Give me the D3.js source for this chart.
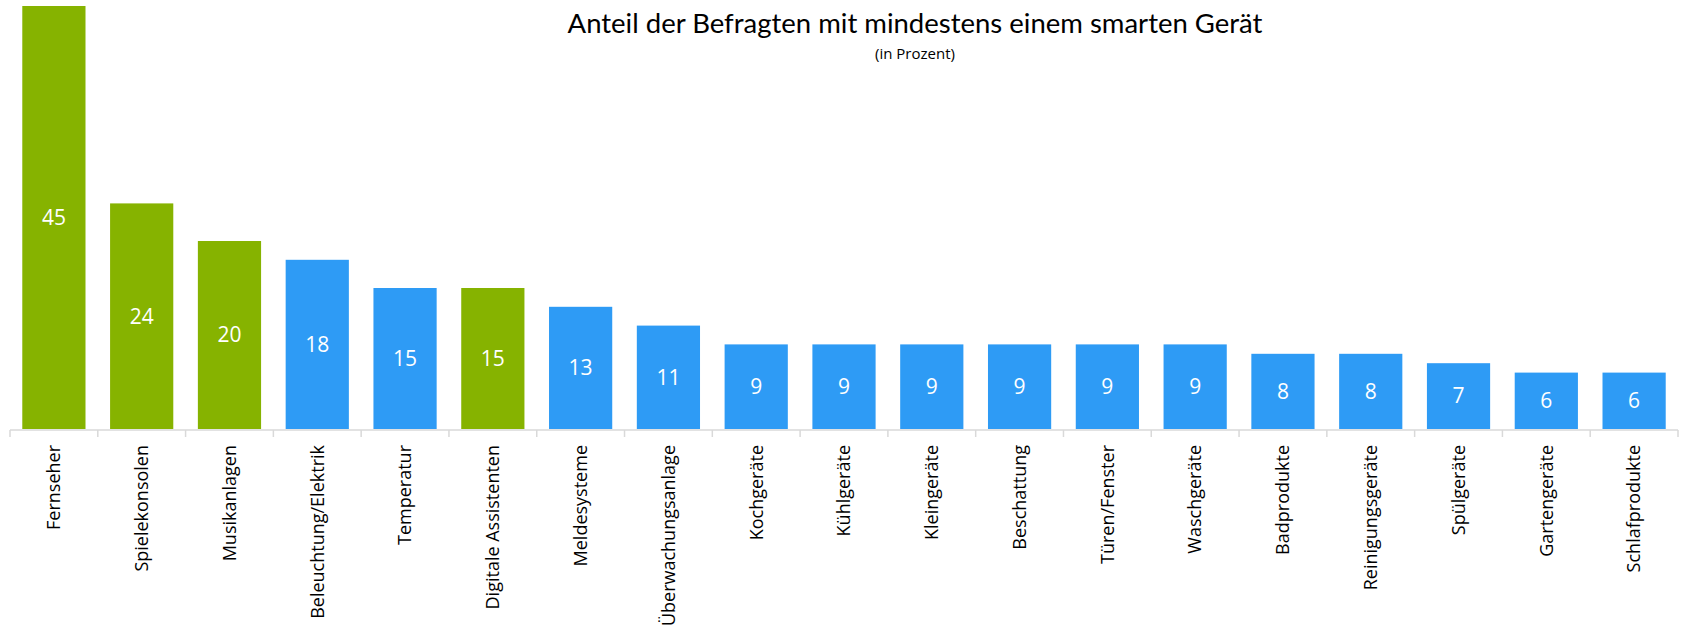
<!DOCTYPE html>
<html>
<head>
<meta charset="utf-8">
<script src="https://cdn.jsdelivr.net/npm/d3@7"></script>
<style>
  body { margin: 0; background: #fff; }
</style>
</head>
<body>
<div id="viz"></div>
<script>
const width = 1683;
const height = 631;
const margin = {top: 6, right: 5, bottom: 202, left: 10};

// Data
const categories = ['Fernseher', 'Spielekonsolen', 'Musikanlagen', 'Beleuchtung/Elektrik', 'Temperatur',
  'Digitale Assistenten', 'Meldesysteme', 'Überwachungsanlage', 'Kochgeräte', 'Kühlgeräte', 'Kleingeräte',
  'Beschattung', 'Türen/Fenster', 'Waschgeräte', 'Badprodukte', 'Reinigungsgeräte', 'Spülgeräte',
  'Gartengeräte', 'Schlafprodukte'];
const values = [45, 24, 20, 18, 15, 15, 13, 11, 9, 9, 9, 9, 9, 9, 8, 8, 7, 6, 6];
const highlighted = ['Fernseher', 'Spielekonsolen', 'Musikanlagen', 'Digitale Assistenten'];

const green = '#86b300';
const blue = '#2e9bf5';

const data = categories.map((c, i) => ({name: c, value: values[i]}));

const svg = d3.select('#viz')
  .append('svg')
    .attr('width', width)
    .attr('height', height);

const xScale = d3.scaleBand()
  .domain(categories)
  .range([margin.left, width - margin.right])
  .paddingInner(0.28)
  .paddingOuter(0.14);

const yScale = d3.scaleLinear()
  .domain([0, 45])
  .range([height - margin.bottom, margin.top]);

// bars
svg.append('g')
  .selectAll('rect')
  .data(data)
  .join('rect')
    .attr('x', d => xScale(d.name))
    .attr('y', d => yScale(d.value))
    .attr('width', xScale.bandwidth())
    .attr('height', d => yScale(0) - yScale(d.value))
    .attr('fill', d => highlighted.includes(d.name) ? green : blue);

// value labels
svg.append('g')
  .selectAll('text')
  .data(data)
  .join('text')
    .attr('x', d => xScale(d.name) + xScale.bandwidth() / 2)
    .attr('y', d => (yScale(d.value) + yScale(0)) / 2)
    .attr('dy', '0.35em')
    .attr('text-anchor', 'middle')
    .attr('fill', '#fff')
    .style('font-family', '"Open Sans", sans-serif')
    .style('font-size', '21px')
    .text(d => d.value);

// x axis: line with ticks between categories
const axisY = yScale(0) + 1;
const step = xScale.step();
const edges = d3.range(categories.length + 1).map(i => margin.left + i * step);
const axis = svg.append('g');
axis.append('line')
  .attr('x1', edges[0])
  .attr('x2', edges[edges.length - 1])
  .attr('y1', axisY)
  .attr('y2', axisY)
  .attr('stroke', '#d9d9d9')
  .attr('stroke-width', 1.5);
axis.selectAll('.tick')
  .data(edges)
  .join('line')
    .attr('x1', d => d)
    .attr('x2', d => d)
    .attr('y1', axisY)
    .attr('y2', axisY + 7)
    .attr('stroke', '#d9d9d9')
    .attr('stroke-width', 1.5);

axis.selectAll('text')
  .data(categories)
  .join('text')
    .attr('transform', d => `translate(${xScale(d) + xScale.bandwidth() / 2}, ${axisY + 15}) rotate(-90)`)
    .attr('dy', '0.35em')
    .attr('text-anchor', 'end')
    .attr('fill', '#000')
    .style('font-family', '"Open Sans", sans-serif')
    .style('font-size', '18px')
    .text(d => d);

// title
svg.append('text')
  .attr('x', 915)
  .attr('y', 33)
  .attr('text-anchor', 'middle')
  .style('font-family', 'Lato, sans-serif')
  .style('font-size', '27.5px')
  .text('Anteil der Befragten mit mindestens einem smarten Gerät');

svg.append('text')
  .attr('x', 915)
  .attr('y', 59)
  .attr('text-anchor', 'middle')
  .style('font-family', '"Open Sans", sans-serif')
  .style('font-size', '15px')
  .text('(in Prozent)');
</script>
</body>
</html>
